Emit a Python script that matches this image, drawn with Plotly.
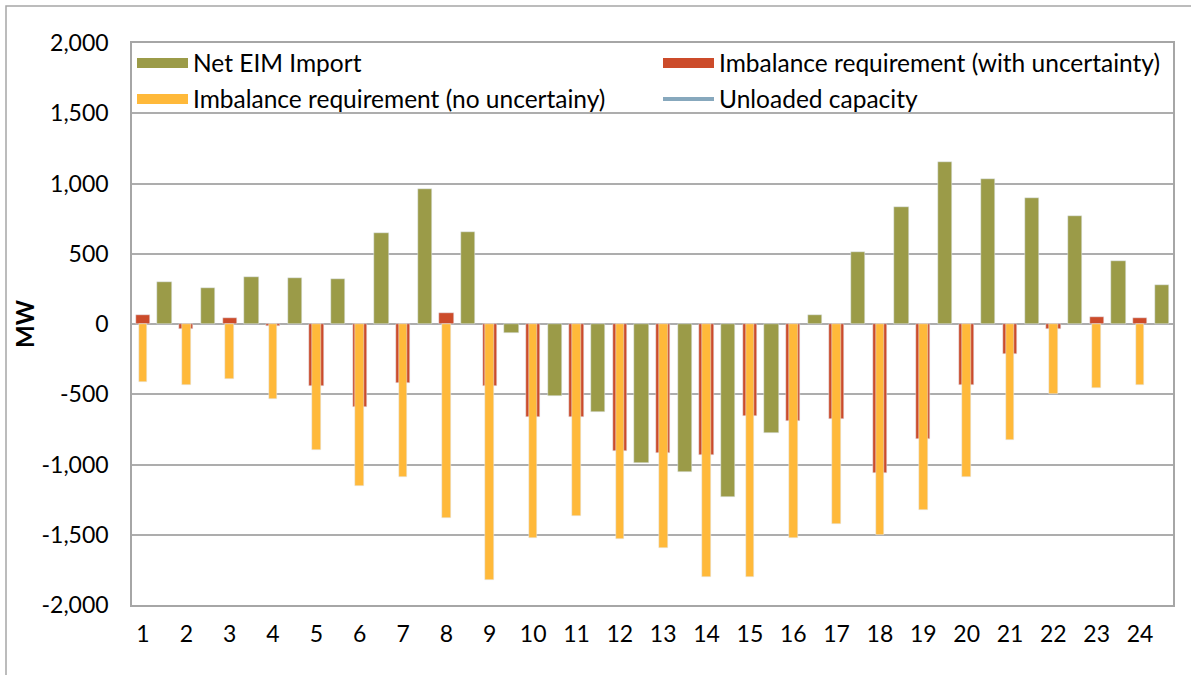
import plotly.graph_objects as go

hours = list(range(1, 25))
net_eim_import = [302, 254, 338, 330, 318, 645, 958, 652, -64, -512, -626, -987, -1051, -1233,
                  -773, 62, 515, 835, 1153, 1030, 900, 771, 446, 280]
req_with_uncertainty = [62, -33, 45, -14, -441, -593, -422, 81, -441, -662, -660, -906, -920, -930,
                        -657, -688, -674, -1058, -816, -434, -213, -38, 48, 45]
req_no_uncertainty = [-415, -436, -391, -536, -898, -1152, -1089, -1381, -1822, -1523, -1364, -1530,
                      -1596, -1800, -1803, -1521, -1421, -1504, -1326, -1091, -825, -496, -453, -434]
unloaded_capacity = [None] * 24

y_tick_values = [-2000, -1500, -1000, -500, 0, 500, 1000, 1500, 2000]
y_tick_labels = ["-2,000", "-1,500", "-1,000", "-500", "0", "500", "1,000", "1,500", "2,000"]

GREEN = "#9B9B48"
RED = "#CC4B2A"
YELLOW = "#FFB93A"
BLUE = "#87A8BD"
FONT = "Lato"

fig = go.Figure()

fig.add_trace(go.Bar(x=hours, y=req_with_uncertainty, width=0.33, marker_color=RED,
                     name="Imbalance requirement (with uncertainty)", legendgroup="red",
                     showlegend=False))
fig.add_trace(go.Bar(x=hours, y=req_no_uncertainty, width=0.2, marker_color=YELLOW,
                     name="Imbalance requirement (no uncertainy)", legendgroup="yellow",
                     showlegend=False))
fig.add_trace(go.Bar(x=[h + 0.5 for h in hours], y=net_eim_import, width=0.33, marker_color=GREEN,
                     name="Net EIM Import", legendgroup="green", showlegend=False))
fig.add_trace(go.Scatter(x=hours, y=unloaded_capacity, mode="lines",
                         line=dict(color=BLUE, width=4), name="Unloaded capacity",
                         legendgroup="blue", showlegend=False))


def legend_entry(name, color, width, group, legend):
    fig.add_trace(go.Scatter(x=[None], y=[None], mode="lines", name=name,
                             line=dict(color=color, width=width), legendgroup=group,
                             legend=legend, showlegend=True, hoverinfo="skip"))


legend_entry("Net EIM Import", GREEN, 13, "green", "legend")
legend_entry("Imbalance requirement (with uncertainty)", RED, 13, "red", "legend2")
legend_entry("Imbalance requirement (no uncertainy)", YELLOW, 13, "yellow", "legend3")
legend_entry("Unloaded capacity", BLUE, 4, "blue", "legend4")

legend_common = dict(orientation="h", xanchor="left", yanchor="middle",
                     font=dict(family=FONT, size=24.5, color="#000000"),
                     bgcolor="rgba(0,0,0,0)", borderwidth=0, itemwidth=51,
                     itemclick=False, itemdoubleclick=False)

PLOT_W = 1041
col2_x = (650 - 124) / PLOT_W

fig.update_layout(
    width=1191, height=675,
    margin=dict(l=132, r=18, t=43, b=70),
    paper_bgcolor="white", plot_bgcolor="white",
    barmode="overlay",
    bargap=0,
    font=dict(family=FONT, size=23, color="#000000"),
    legend=dict(x=0.0, y=0.9644, **legend_common),
    legend2=dict(x=col2_x, y=0.9644, **legend_common),
    legend3=dict(x=0.0, y=0.9004, **legend_common),
    legend4=dict(x=col2_x, y=0.9004, **legend_common),
    xaxis=dict(range=[0.747, 24.76], tickmode="array", tickvals=hours,
               ticktext=[str(h) for h in hours], showgrid=False, zeroline=False,
               showline=True, mirror=True, linecolor="#A6A6A6", linewidth=1.5,
               ticks="", ticklabelstandoff=8,
               tickfont=dict(family=FONT, size=23, color="#000000")),
    yaxis=dict(range=[-2000, 2000], tickmode="array", tickvals=y_tick_values,
               ticktext=y_tick_labels, showgrid=True, gridcolor="#ADADAD", gridwidth=1.5,
               zeroline=False, showline=True, mirror=True, linecolor="#A6A6A6",
               linewidth=1.5, ticks="", ticklabelstandoff=17,
               tickfont=dict(family=FONT, size=23, color="#000000")),
    shapes=[dict(type="rect", xref="paper", yref="paper",
                 x0=(6 - 132) / 1041, x1=1.03, y0=-0.2, y1=1 + (43 - 6) / 562,
                 line=dict(color="#A6A6A6", width=1.5), fillcolor="rgba(0,0,0,0)",
                 layer="below")],
)
fig.update_yaxes(title=dict(text="<b>MW</b>", standoff=0,
                            font=dict(family=FONT, size=24, color="#000000")))

fig.write_html("out.html", post_script="document.body.style.margin='0';",
               config={"displayModeBar": False})
